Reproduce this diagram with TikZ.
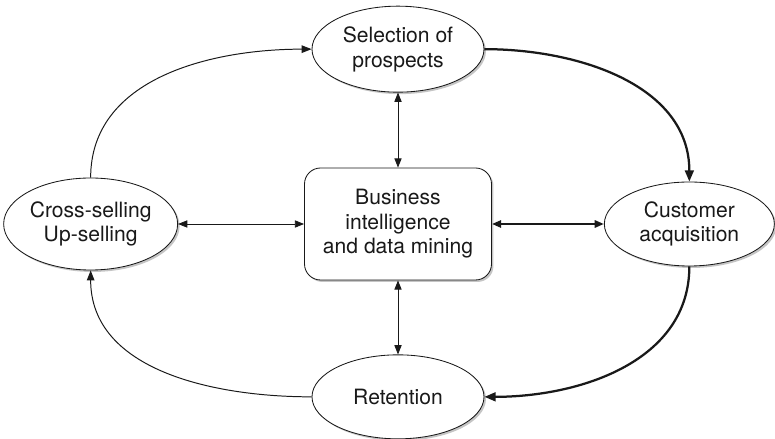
\documentclass[tikz,border=0pt]{standalone}
\usepackage{fontspec}
\setmainfont{TeX Gyre Heros}
\usetikzlibrary{arrows.meta, positioning, shapes.geometric, shadows}

\tikzset{
    stage/.style={draw, ellipse, fill=white, inner sep=0pt, align=center,
        minimum width=4.3cm, minimum height=2.15cm, line width=0.6pt,
        drop shadow={shadow xshift=1.4pt, shadow yshift=-1.4pt, fill=black!45}},
    core/.style={draw, rounded corners=0.4cm, fill=white, align=center,
        minimum width=4.675cm, minimum height=2.8cm, line width=0.6pt,
        drop shadow={shadow xshift=1.4pt, shadow yshift=-1.4pt, fill=black!45}},
    link/.style={line width=0.6pt, {Triangle[length=2.3mm,width=1.8mm]}-{Triangle[length=2.3mm,width=1.8mm]}},
    flow/.style={line width=0.7pt, -{Triangle[length=2.5mm,width=1.9mm]}},
    bigflow/.style={line width=1.6pt, -{Triangle[length=2.8mm,width=2.2mm]}}
}

\begin{document}
\begin{tikzpicture}[font=\fontsize{15}{17.5}\selectfont, color=black!90]
    \useasboundingbox (0,0) rectangle (19.375,10.975);

    % centre
    \node[core] (bi) at (9.95,5.375) {Business\\intelligence\\and data mining};

    % four stages of the cycle
    \node[stage, above=1.875cm of bi] (sel) {Selection of\\prospects};
    \node[stage, below=1.85cm of bi, minimum height=2.1cm] (ret) {Retention};
    \node[stage, left=3.15cm of bi, minimum width=4.35cm, minimum height=2.3cm] (cross) {Cross-selling\\Up-selling};
    \node[stage, right=2.8cm of bi, minimum width=4.25cm, minimum height=2.1cm] (cust) {Customer\\acquisition};

    % links with the centre
    \draw[link] (sel) -- (bi);
    \draw[link] (bi) -- (ret);
    \draw[link] (cross) -- (bi);
    \draw[link, line width=1.6pt] (bi) -- (cust);

    % cycle
    \draw[bigflow] (sel.east) to[out=0, in=90] (cust.north);
    \draw[bigflow] (cust.south) to[out=-90, in=0] (ret.east);
    \draw[flow] (ret.west) to[out=180, in=-90] (cross.south);
    \draw[flow] (cross.north) to[out=90, in=180] (sel.west);

\end{tikzpicture}
\end{document}
